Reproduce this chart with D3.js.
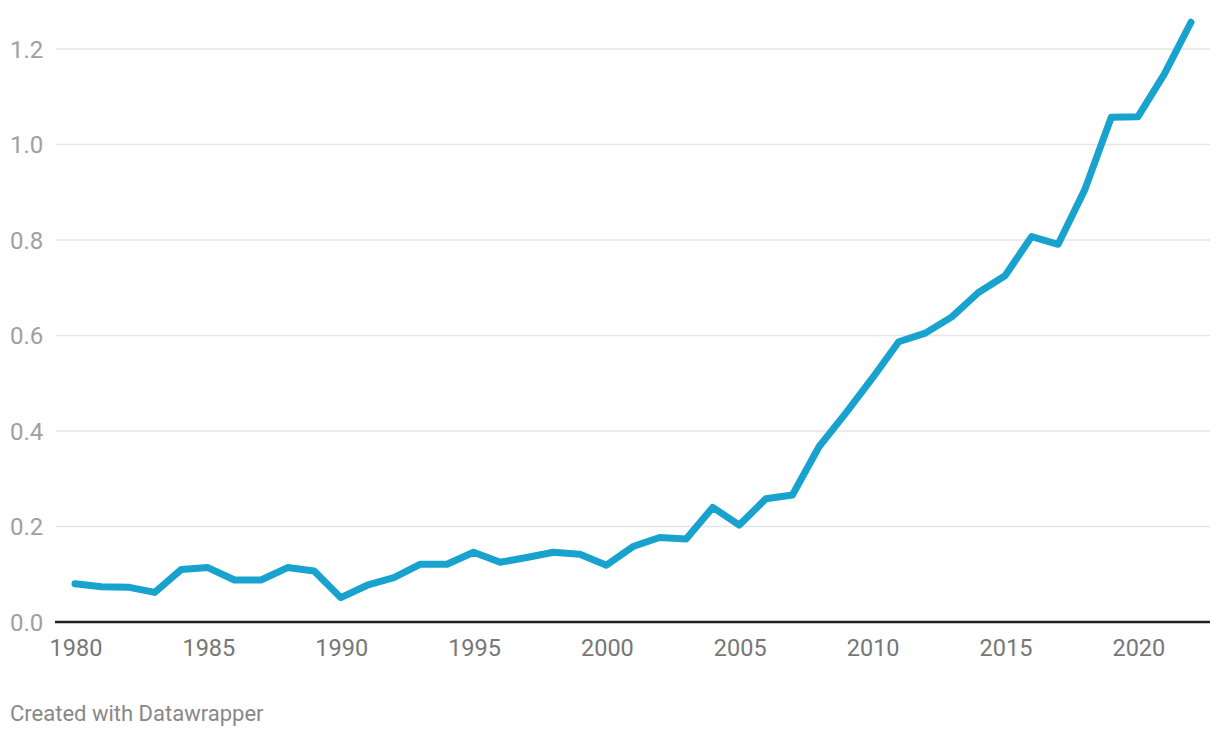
<!DOCTYPE html>
<html>
<head>
<meta charset="utf-8">
<script src="https://cdn.jsdelivr.net/npm/d3@7"></script>
<style>
body { margin: 0; background: #fff; font-family: Roboto, sans-serif; }
</style>
</head>
<body>
<script>
var years = d3.range(1980, 2023);
var values = [0.080, 0.074, 0.073, 0.062, 0.110, 0.114, 0.088, 0.088, 0.114, 0.107,
  0.051, 0.077, 0.093, 0.121, 0.121, 0.146, 0.125, 0.135, 0.146, 0.142,
  0.119, 0.158, 0.177, 0.174, 0.240, 0.203, 0.258, 0.266, 0.367, 0.437,
  0.510, 0.587, 0.605, 0.639, 0.690, 0.725, 0.807, 0.791, 0.905, 1.057,
  1.058, 1.148, 1.256];
var yTicks = [0, 0.2, 0.4, 0.6, 0.8, 1.0, 1.2];
var xTicks = [1980, 1985, 1990, 1995, 2000, 2005, 2010, 2015, 2020];

var width = 1220, height = 738;
var svg = d3.select("body").append("svg")
    .attr("width", width)
    .attr("height", height);

var x = d3.scaleLinear().domain([1980, 2022]).range([75, 1191]);
var y = d3.scaleLinear().domain([0, 1.2]).range([622, 49]);

// grid lines
svg.selectAll(".grid")
    .data(yTicks.filter(function(d) { return d > 0; }))
  .enter().append("line")
    .attr("x1", 56).attr("x2", 1210)
    .attr("y1", function(d) { return y(d); })
    .attr("y2", function(d) { return y(d); })
    .attr("stroke", "#e5e5e5")
    .attr("stroke-width", 1.5);

svg.selectAll(".ylab")
    .data(yTicks)
  .enter().append("text")
    .attr("x", 10)
    .attr("y", function(d) { return y(d) + 8.5; })
    .attr("font-size", "24px")
    .attr("fill", "#a0a0a0")
    .text(function(d) { return d3.format(".1f")(d); });

svg.selectAll(".xlab")
    .data(xTicks)
  .enter().append("text")
    .attr("x", function(d) { return x(d) + 1; })
    .attr("y", 656)
    .attr("text-anchor", "middle")
    .attr("font-size", "23.5px")
    .attr("fill", "#777")
    .text(function(d) { return d; });

var line = d3.line()
    .x(function(d, i) { return x(years[i]); })
    .y(function(d) { return y(d); });

svg.append("path")
    .datum(values)
    .attr("d", line)
    .attr("fill", "none")
    .attr("stroke", "#18a2ce")
    .attr("stroke-width", 7)
    .attr("stroke-linejoin", "round")
    .attr("stroke-linecap", "round");

// baseline
svg.append("line")
    .attr("x1", 55).attr("x2", 1210)
    .attr("y1", y(0)).attr("y2", y(0))
    .attr("stroke", "#222")
    .attr("stroke-width", 2.5);

svg.append("text")
    .attr("x", 10)
    .attr("y", 721)
    .attr("font-size", "22px")
    .attr("fill", "#888")
    .text("Created with Datawrapper");
</script>
</body>
</html>
